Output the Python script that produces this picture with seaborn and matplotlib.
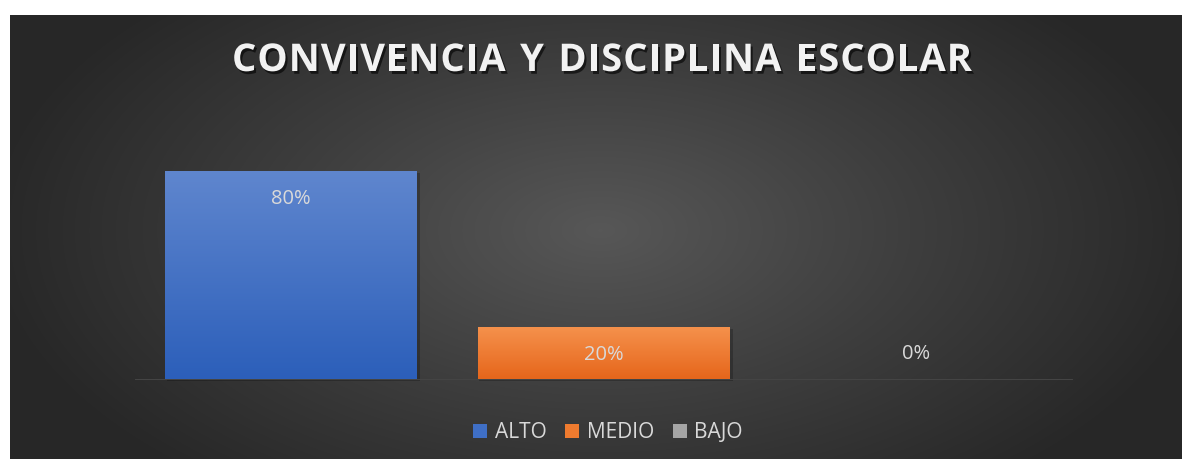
import numpy as np
import pandas as pd
import matplotlib
matplotlib.use("Agg")
import matplotlib.pyplot as plt
import matplotlib.patheffects as pe
from matplotlib.patches import Patch
from matplotlib.colors import LinearSegmentedColormap
import seaborn as sns

# ---- data ----
categories = ["ALTO", "MEDIO", "BAJO"]
values = [0.80, 0.20, 0.00]
labels = ["80%", "20%", "0%"]
title = "CONVIVENCIA Y DISCIPLINA ESCOLAR"

top_colors = ["#5f86ce", "#f5914c", "#b4b4b4"]
bot_colors = ["#2c5fba", "#e6661b", "#8e8e8e"]
mid_colors = ["#3f6fc6", "#ef7b2f", "#a5a5a5"]

sns.set_theme(style="white")
plt.rcParams["font.family"] = ["Open Sans", "DejaVu Sans"]

W, H = 1182, 459
fig = plt.figure(figsize=(W / 100, H / 100), dpi=100)
fig.patch.set_facecolor("white")

# background panel with radial gradient
bg = fig.add_axes([10 / W, 0, (W - 10) / W, (H - 15) / H])
bg.set_axis_off()
yy, xx = np.mgrid[0:444, 0:1172]
cx, cy = 590, 215
r = np.sqrt(((xx - cx) / 620.0) ** 2 + ((yy - cy) / 330.0) ** 2)
r = np.clip(r, 0, 1)
bg_cmap = LinearSegmentedColormap.from_list("bg", ["#575757", "#3e3e3e", "#272727"])
bg.imshow(r, cmap=bg_cmap, aspect="auto", extent=[0, 1, 0, 1], origin="upper", vmin=0, vmax=1)
bg.set_xlim(0, 1)
bg.set_ylim(0, 1)

# main axes
ax = fig.add_axes([134.75 / W, 80 / H, 937.5 / W, 234 / H])
ax.patch.set_alpha(0)
df = pd.DataFrame({"cat": categories, "val": values})
sns.barplot(data=df, x="cat", y="val", hue="cat", palette=mid_colors,
            width=0.806, legend=False, ax=ax, saturation=1, edgecolor="none")
ax.set_ylim(0, 0.9)
ax.set_xlim(-0.5, 2.5)

# gradient fill for each bar, plus soft shadow
for patch, tc, bc in zip(ax.patches, top_colors, bot_colors):
    x0, y0 = patch.get_x(), patch.get_y()
    w, h = patch.get_width(), patch.get_height()
    if h <= 0:
        continue
    sh = plt.Rectangle((x0 + 0.006, y0 - 0.008), w + 0.004, h, facecolor="black",
                       alpha=0.22, zorder=patch.get_zorder() - 0.5, linewidth=0,
                       clip_on=False)
    ax.add_patch(sh)
    cm = LinearSegmentedColormap.from_list("g", [bc, tc])
    grad = np.linspace(0, 1, 256).reshape(-1, 1)
    im = ax.imshow(grad, cmap=cm, aspect="auto", origin="lower",
                   extent=[x0, x0 + w, y0, y0 + h], zorder=patch.get_zorder() + 0.1)
    im.set_clip_path(patch)
ax.set_xlim(-0.5, 2.5)
ax.set_ylim(0, 0.9)

# data labels
for i, (v, lab) in enumerate(zip(values, labels)):
    off = -20.5 if v > 0.001 else 18
    ax.annotate(lab, xy=(i, v), xytext=(0, off), textcoords="offset points",
                ha="center", va="center", fontsize=14.5, color="#d9d9d9", zorder=5)

ax.set_xticks([])
ax.set_yticks([])
ax.set_xlabel("")
ax.set_ylabel("")
for s in ["top", "right", "left"]:
    ax.spines[s].set_visible(False)
ax.spines["bottom"].set_color("#454545")
ax.spines["bottom"].set_linewidth(0.7)

# title with letter spacing (character by character)
renderer = fig.canvas.get_renderer()
tkw = dict(fontsize=27.5, fontweight="bold", color="#f2f2f2", va="center", ha="left",
           path_effects=[pe.withSimplePatchShadow(offset=(1.5, -2), shadow_rgbFace="black", alpha=0.6)])
widths = []
for ch in title:
    t = fig.text(0, 0, ch if ch != " " else "n", **tkw)
    wpx = t.get_window_extent(renderer).width
    if ch == " ":
        wpx *= 0.5
    widths.append(wpx)
    t.remove()
target = 740.0
spacing = (target - sum(widths)) / (len(title) - 1)
spacing = max(spacing, 0.5)
total = sum(widths) + spacing * (len(title) - 1)
xpos = 602 - total / 2
ty = 1 - 61 / H
for ch, wpx in zip(title, widths):
    if ch != " ":
        fig.text(xpos / W, ty, ch, **tkw)
    xpos += wpx + spacing

# legend
handles = [Patch(facecolor=c, edgecolor="none", label=cat) for c, cat in zip(mid_colors, categories)]
leg = fig.legend(handles=handles, loc="center", bbox_to_anchor=(608 / W, 26 / H), ncol=3,
                 frameon=False, fontsize=15, handlelength=0.68, handleheight=0.68,
                 handletextpad=0.35, columnspacing=0.9, labelcolor="#d9d9d9")

fig.savefig("out.png", dpi=100, facecolor="white")
